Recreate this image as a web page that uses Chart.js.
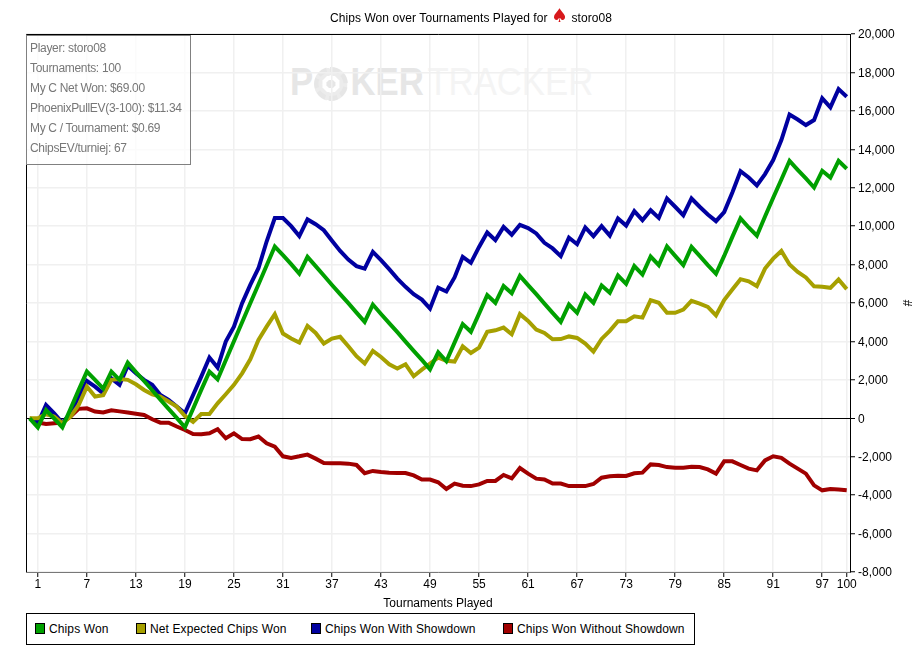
<!DOCTYPE html>
<html>
<head>
<meta charset="utf-8">
<title>Chips Won over Tournaments Played</title>
<script src="https://cdn.jsdelivr.net/npm/chart.js@4"></script>
<style>
  body { margin: 0; background: #fff; font: 12px "Liberation Sans", Arial, sans-serif; color: #000; }
  #wrap { position: relative; width: 912px; height: 656px; overflow: hidden; }
  #chart { position: absolute; left: 0; top: 0; }
  #title { position: absolute; left: 330px; top: 9px; white-space: nowrap; letter-spacing: .07px; }
  #title span { color: #d7191c; font: 19px/12px "DejaVu Sans", sans-serif; }
  #mark { position: absolute; left: 290px; top: 60px; font: bold 39px/44px "Liberation Sans", Arial, sans-serif; color: #e6e6e6; white-space: nowrap; transform: scaleX(.89); transform-origin: left top; }
  #mark i { display: inline-block; box-sizing: border-box; vertical-align: -6px; width: 38px; height: 34px; margin: 0 3px 0 1px; border-radius: 50%; border: 5px dashed #e6e6e6; background: radial-gradient(#e6e6e6 0 25%, #fff 26% 50%, #ececec 51%); }
  #mark b { color: #f4f4f4; font-weight: normal; margin-left: 4px; }
  #info { position: absolute; left: 26px; top: 35px; box-sizing: border-box; width: 165px; height: 130px; padding: 2px 0 0 3px; border: 1px solid #808080; background: rgba(255,255,255,.75); color: #777; line-height: 20px; white-space: nowrap; letter-spacing: -.32px; }
  #legend { position: absolute; left: 26px; top: 613px; box-sizing: border-box; width: 669px; height: 32px; border: 1px solid #000; background: #fff; }
  #legend div { position: absolute; top: 0; line-height: 30px; white-space: nowrap; letter-spacing: .12px; }
  #legend s { position: absolute; left: -14px; top: 9px; box-sizing: border-box; width: 10px; height: 11px; border: 1px solid #000; }
</style>
</head>
<body>
<div id="wrap">
  <div id="mark">P<i></i>KER<b>TRACKER</b></div>
  <canvas id="chart" width="912" height="656"></canvas>
  <div id="title">Chips Won over Tournaments Played for <span>♠</span> storo08</div>
  <div id="info"></div>
  <div id="legend"></div>
</div>
<script>
const tournaments = [
  0, 1, 2, 3, 4, 5, 6, 7, 8, 9,
  10, 11, 12, 13, 14, 15, 16, 17, 18, 19,
  20, 21, 22, 23, 24, 25, 26, 27, 28, 29,
  30, 31, 32, 33, 34, 35, 36, 37, 38, 39,
  40, 41, 42, 43, 44, 45, 46, 47, 48, 49,
  50, 51, 52, 53, 54, 55, 56, 57, 58, 59,
  60, 61, 62, 63, 64, 65, 66, 67, 68, 69,
  70, 71, 72, 73, 74, 75, 76, 77, 78, 79,
  80, 81, 82, 83, 84, 85, 86, 87, 88, 89,
  90, 91, 92, 93, 94, 95, 96, 97, 98, 99,
  100
];
const chipsWon = [
  0, -470, 430, -20, -470, 500, 1480, 2430, 2000, 1545,
  2430, 2000, 2900, 2410, 1940, 1460, 970, 490, 20, -470,
  500, 1480, 2430, 2030, 3020, 4010, 5000, 5990, 6960, 7950,
  8940, 8490, 8020, 7530, 8400, 7920, 7430, 6940, 6460, 5990,
  5500, 5020, 5920, 5430, 4950, 4480, 3990, 3510, 3040, 2550,
  3440, 2970, 3940, 4900, 4500, 5450, 6410, 6010, 6890, 6510,
  7410, 6930, 6460, 5970, 5490, 5020, 5920, 5490, 6440, 6010,
  6910, 6530, 7430, 7000, 7920, 7480, 8420, 7970, 8940, 8450,
  7970, 8920, 8450, 7970, 7520, 8450, 9440, 10400, 9930, 9500,
  10500, 11480, 12430, 13400, 12930, 12480, 12010, 12880, 12530, 13400,
  12990
];
const netExpected = [
  0, 0, 210, 90, -260, 90, 690, 1650, 1130, 1200,
  2000, 2050, 2000, 1770, 1475, 1250, 1130, 870, 610, 120,
  -190, 225, 225, 780, 1250, 1740, 2340, 3070, 4080, 4770,
  5420, 4410, 4150, 3940, 4810, 4440, 3890, 4150, 4240, 3750,
  3230, 2850, 3510, 3190, 2810, 2590, 2810, 2190, 2530, 2850,
  3160, 2990, 2950, 3750, 3400, 3680, 4500, 4580, 4720, 4370,
  5420, 5070, 4620, 4440, 4110, 4120, 4260, 4180, 3890, 3470,
  4130, 4550, 5050, 5050, 5310, 5240, 6150, 6010, 5490, 5490,
  5660, 6110, 5970, 5800, 5360, 6150, 6700, 7240, 7130, 6880,
  7790, 8310, 8710, 8000, 7620, 7330, 6870, 6840, 6790, 7220,
  6720
];
const withShowdown = [
  0, -260, 690, 260, -230, 260, 1130, 1940, 1650, 1300,
  2080, 1740, 2730, 2340, 2000, 1740, 1215, 955, 610, 260,
  1215, 2170, 3160, 2640, 3990, 4770, 5990, 6940, 7810, 9200,
  10420, 10420, 10000, 9480, 10350, 10100, 9790, 9240, 8710, 8260,
  7920, 7790, 8660, 8230, 7760, 7270, 6840, 6460, 6180, 5710,
  6800, 6600, 7330, 8400, 8090, 8920, 9670, 9270, 9960, 9550,
  10070, 9900, 9620, 9130, 8840, 8440, 9400, 9060, 9930, 9480,
  10000, 9510, 10400, 10030, 10780, 10310, 10830, 10430, 11440, 11010,
  10570, 11440, 11010, 10610, 10260, 10730, 11750, 12860, 12530, 12120,
  12710, 13440, 14480, 15810, 15550, 15260, 15520, 16650, 16180, 17130,
  16730
];
const withoutShowdown = [
  0, -220, -300, -260, -220, 90, 490, 520, 350, 300,
  420, 360, 300, 240, 170, -50, -230, -230, -430, -610,
  -815, -830, -780, -570, -1040, -780, -1080, -1090, -950, -1300,
  -1480, -1980, -2060, -1980, -1890, -2100, -2330, -2340, -2340, -2360,
  -2430, -2860, -2740, -2790, -2830, -2850, -2850, -2970, -3190, -3190,
  -3330, -3680, -3400, -3510, -3530, -3440, -3260, -3260, -2950, -3130,
  -2590, -2880, -3140, -3180, -3400, -3400, -3530, -3530, -3530, -3420,
  -3090, -3020, -2990, -3000, -2860, -2830, -2400, -2430, -2540, -2570,
  -2570, -2520, -2540, -2660, -2880, -2240, -2240, -2430, -2620, -2710,
  -2190, -1980, -2060, -2360, -2620, -2880, -3490, -3750, -3680, -3710,
  -3750
];
const xTicks = [1, 7, 13, 19, 25, 31, 37, 43, 49, 55, 61, 67, 73, 79, 85, 91, 97, 100];
const infoLines = [
  'Player: storo08',
  'Tournaments: 100',
  'My C Net Won: $69.00',
  'PhoenixPullEV(3-100): $11.34',
  'My C / Tournament: $0.69',
  'ChipsEV/turniej: 67'
];
const legendLeft = [22, 123, 298, 490];

const axisFont = { family: '"Liberation Sans", Arial, sans-serif', size: 12 };

// left and top edges of the plot, the library only draws the axis sides
const frame = {
  id: 'frame',
  afterDatasetsDraw(chart) {
    const { ctx, chartArea: a } = chart;
    ctx.save();
    ctx.strokeStyle = '#000';
    ctx.lineWidth = 1;
    ctx.beginPath();
    ctx.moveTo(a.left + 0.5, a.bottom);
    ctx.lineTo(a.left + 0.5, a.top + 0.5);
    ctx.lineTo(a.right, a.top + 0.5);
    ctx.stroke();
    ctx.restore();
  }
};

const makeSeries = (label, data, color) => ({
  label: label,
  data: data,
  borderColor: color,
  backgroundColor: color,
  borderWidth: 4,
  pointRadius: 0,
  tension: 0,
  fill: false
});

const chart = new Chart(document.getElementById('chart'), {
  type: 'line',
  data: {
    labels: tournaments,
    datasets: [
      makeSeries('Chips Won', chipsWon, '#00a000'),
      makeSeries('Net Expected Chips Won', netExpected, '#a6a000'),
      makeSeries('Chips Won With Showdown', withShowdown, '#0000a0'),
      makeSeries('Chips Won Without Showdown', withoutShowdown, '#a00000')
    ]
  },
  options: {
    responsive: false,
    animation: false,
    layout: { padding: { left: 26, top: 34, right: 0, bottom: 45 } },
    plugins: { legend: { display: false }, tooltip: { enabled: false } },
    scales: {
      x: {
        type: 'linear',
        min: -0.45,
        max: 100.4,
        afterBuildTicks: (scale) => { scale.ticks = xTicks.map((v) => ({ value: v })); },
        afterFit: (scale) => { scale.height = 39; },
        grid: { color: '#f0f0f0', lineWidth: 1.5, tickColor: '#000', tickWidth: 1, tickLength: 5 },
        border: { color: '#000', width: 1 },
        ticks: { color: '#000', font: axisFont, autoSkip: false, maxRotation: 0, padding: 0, callback: (v) => v },
        title: { display: true, text: 'Tournaments Played', color: '#000', font: axisFont, padding: 0 }
      },
      y: {
        position: 'right',
        min: -8000,
        max: 20000,
        afterFit: (scale) => { scale.width = 62; },
        grid: {
          color: (c) => (c.tick.value === 0 ? '#000' : '#f0f0f0'),
          lineWidth: (c) => (c.tick.value === 0 ? 1 : 1.5),
          tickColor: '#000',
          tickWidth: 1,
          tickLength: 5,
          z: 0
        },
        border: { color: '#000', width: 1 },
        ticks: { color: '#000', font: axisFont, stepSize: 2000, padding: 3, labelOffset: 1, callback: (v) => v.toLocaleString('en-US') },
        title: { display: true, text: '#', color: '#000', font: axisFont, padding: { top: -2, bottom: 0 } }
      }
    }
  },
  plugins: [frame]
});

document.getElementById('info').innerHTML = infoLines.map((t) => '<div>' + t + '</div>').join('');

// legend box is laid out by hand, built from the datasets
const legendBox = document.getElementById('legend');
chart.data.datasets.forEach((ds, i) => {
  const item = document.createElement('div');
  item.style.left = legendLeft[i] + 'px';
  item.textContent = ds.label;
  const swatch = document.createElement('s');
  swatch.style.background = ds.borderColor;
  item.appendChild(swatch);
  legendBox.appendChild(item);
});
</script>
</body>
</html>
